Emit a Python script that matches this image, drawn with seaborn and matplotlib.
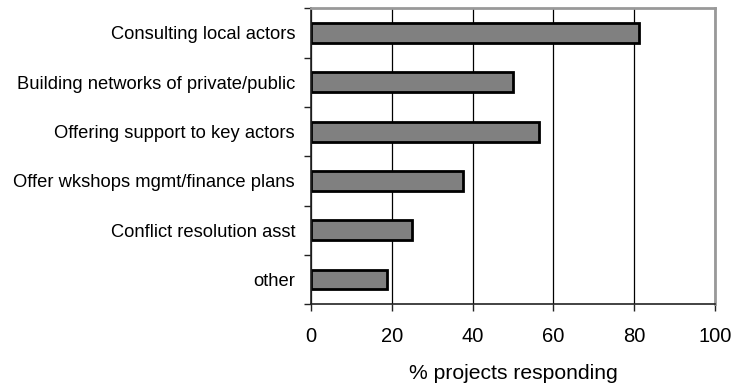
import matplotlib
matplotlib.use("Agg")
import matplotlib.pyplot as plt
import seaborn as sns
import pandas as pd
import numpy as np

categories = [
    "Consulting local actors",
    "Building networks of private/public",
    "Offering support to key actors",
    "Offer wkshops mgmt/finance plans",
    "Conflict resolution asst",
    "other",
]
percent_responding = [81.3, 50.0, 56.4, 37.5, 24.9, 18.9]
x_ticks = [0, 20, 40, 60, 80, 100]
x_label = "% projects responding"

sns.set_theme(style="white")
plt.rcParams["font.family"] = ["Liberation Sans", "DejaVu Sans"]
plt.rcParams["text.color"] = "black"
plt.rcParams["xtick.color"] = "black"
plt.rcParams["ytick.color"] = "black"
plt.rcParams["axes.labelcolor"] = "black"

df = pd.DataFrame({"activity": categories, "pct": percent_responding})

fig = plt.figure(figsize=(7.43, 3.83), dpi=100)
ax = fig.add_axes([0.4186, 0.2055, 0.9623 - 0.4186, 0.9783 - 0.2055])

sns.barplot(data=df, x="pct", y="activity", orient="h", color="#808080",
            saturation=1, width=0.4, edgecolor="black", linewidth=2.0, ax=ax)
for p in ax.patches:
    p.set_facecolor("#808080")

ax.set_xlim(0, 100)
ax.set_ylim(len(categories) - 0.5, -0.5)
ax.set_xticks(x_ticks)
ax.set_xticklabels([str(t) for t in x_ticks], fontsize=14.5, color="black")
ax.set_yticks(np.arange(len(categories)))
ax.set_yticklabels(categories, fontsize=13.2, color="black")
ax.set_yticks(np.arange(len(categories) + 1) - 0.5, minor=True)
ax.tick_params(axis="y", which="major", length=0, pad=11.5)
ax.tick_params(axis="y", which="minor", length=5, width=1, color="#222222", left=True)
ax.tick_params(axis="x", which="major", length=5, width=1, color="#222222",
               bottom=True, pad=11)
ax.set_xlabel(x_label, fontsize=15.2, labelpad=13, color="black")
ax.set_ylabel("")

ax.grid(axis="x", color="black", linewidth=0.9)
ax.grid(axis="y", visible=False)
ax.set_axisbelow(True)

for side in ("left", "bottom"):
    ax.spines[side].set_color("#222222")
    ax.spines[side].set_linewidth(1.2)
for side in ("top", "right"):
    ax.spines[side].set_color("#999999")
    ax.spines[side].set_linewidth(2)

fig.savefig("out.png", dpi=100)
